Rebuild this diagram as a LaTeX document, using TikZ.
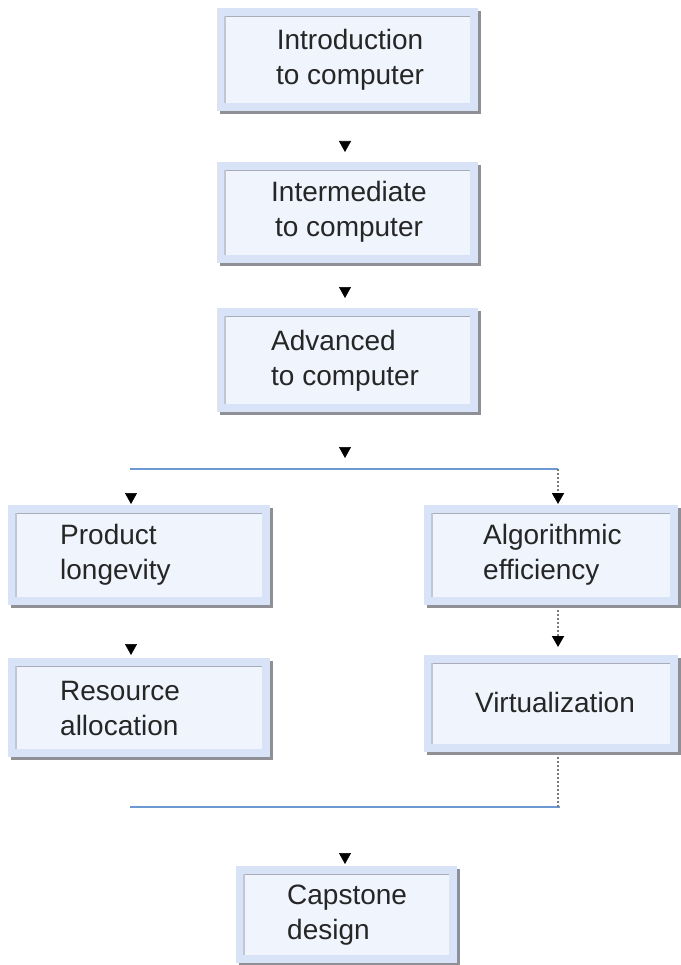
\documentclass[tikz,border=0pt]{standalone}
\usepackage{fontspec}
\setmainfont{Liberation Sans}
\usetikzlibrary{arrows.meta,backgrounds}

\definecolor{frameblue}{HTML}{D8E3F7}
\definecolor{innerfill}{HTML}{EFF4FD}
\definecolor{shadowgray}{HTML}{8E9096}
\definecolor{inneredge}{HTML}{A9AEB6}
\definecolor{busblue}{HTML}{6D99D3}
\definecolor{dotgray}{HTML}{7A7A7A}

\tikzset{
  course/.style={
    anchor=north west, inner sep=0pt, draw=none, fill=frameblue,
    preaction={fill=shadowgray, transform canvas={xshift=3pt,yshift=-3pt}},
    path picture={
      \fill[innerfill] ([shift={(8pt,-8pt)}]path picture bounding box.north west)
        rectangle ([shift={(-8pt,8pt)}]path picture bounding box.south east);
      \draw[inneredge, line width=0.8pt]
        ([shift={(8pt,8pt)}]path picture bounding box.south west)
        -- ([shift={(8pt,-8pt)}]path picture bounding box.north west)
        -- ([shift={(-8pt,-8pt)}]path picture bounding box.north east);
      \draw[inneredge!70, line width=1.6pt]
        ([shift={(8pt,8pt)}]path picture bounding box.south west)
        -- ([shift={(8pt,-8pt)}]path picture bounding box.north west);
    }
  },
  coursetext/.style={inner sep=0pt, font=\fontsize{28}{35}\selectfont, text=black!85},
  tip/.style={-{Triangle[width=12pt,length=11pt,black]}},
  hiddenlink/.style={tip, draw=white, line width=0.6pt},
  dottedlink/.style={tip, draw=dotgray, line width=1.8pt, dash pattern=on 2pt off 2pt},
  bus/.style={draw=busblue, line width=2.4pt}
}

\begin{document}
\begin{tikzpicture}[x=1pt,y=-1pt]
\useasboundingbox (0,0) rectangle (680,965);

% course boxes
\node[course, minimum width=261pt, minimum height=103pt] (intro) at (217,8) {};
\node[course, minimum width=261pt, minimum height=101pt] (inter) at (217,162) {};
\node[course, minimum width=261pt, minimum height=104pt] (adv) at (217,308) {};
\node[course, minimum width=262pt, minimum height=100pt] (prod) at (8,505) {};
\node[course, minimum width=254pt, minimum height=100pt] (algo) at (424,505) {};
\node[course, minimum width=262pt, minimum height=99pt] (res) at (8,658) {};
\node[course, minimum width=254pt, minimum height=97pt] (virt) at (424,655) {};
\node[course, minimum width=221pt, minimum height=97pt] (cap) at (236,866) {};

% course titles
\node[coursetext, align=center] (tintro) at (350,60) {Introduction\\to computer};
\node[coursetext, align=center] (tinter) at (349,212) {Intermediate\\to computer};
\node[coursetext, align=left, anchor=west] (tadv) at (271,361) {Advanced\\to computer};
\node[coursetext, align=left, anchor=west] (tprod) at (60,555) {Product\\longevity};
\node[coursetext, align=left, anchor=west] (talgo) at (483,555) {Algorithmic\\efficiency};
\node[coursetext, align=left, anchor=west] (tres) at (60,708) {Resource\\allocation};
\node[coursetext, align=center] (tvirt) at (555,702) {Virtualization};
\node[coursetext, align=left, anchor=west] (tcap) at (287,915) {Capstone\\design};

% branching bars
\coordinate (splitL) at (130,469);
\coordinate (splitM) at (345,469);
\coordinate (splitR) at (558,469);
\coordinate (joinL) at (130,807);
\coordinate (joinM) at (345,807);
\coordinate (joinR) at (560,807);
\coordinate (prodx) at (131,0);
\coordinate (algox) at (558,0);

% links sit behind boxes and bars; only their tips show
\begin{pgfonlayer}{background}
\draw[hiddenlink, shorten >=10pt] (intro.south -| splitM) -- (inter.north -| splitM);
\draw[hiddenlink, shorten >=10pt] (inter.south -| splitM) -- (adv.north -| splitM);
\draw[hiddenlink, shorten >=11pt] (adv.south -| splitM) -- (splitM);
\draw[hiddenlink, shorten >=1pt] (prodx |- splitL) -- (prodx |- prod.north);
\draw[hiddenlink, shorten >=3pt] (prodx |- prod.south) -- (prodx |- res.north);
\draw[hiddenlink, shorten >=2pt] (joinM) -- (cap.north -| joinM);
\end{pgfonlayer}

\draw[bus] (splitL) -- (splitR);
\draw[bus] (joinL) -- (joinR);

% right branch
\draw[dottedlink, shorten >=1pt] (splitR) -- (algox |- algo.north);
\draw[dottedlink, shorten >=8pt] ([yshift=-5pt]algox |- algo.south) -- (algox |- virt.north);
\draw[dotgray, line width=1.8pt, dash pattern=on 2pt off 2pt]
  ([yshift=-5pt]algox |- virt.south) -- (algox |- joinR);
\end{tikzpicture}
\end{document}
